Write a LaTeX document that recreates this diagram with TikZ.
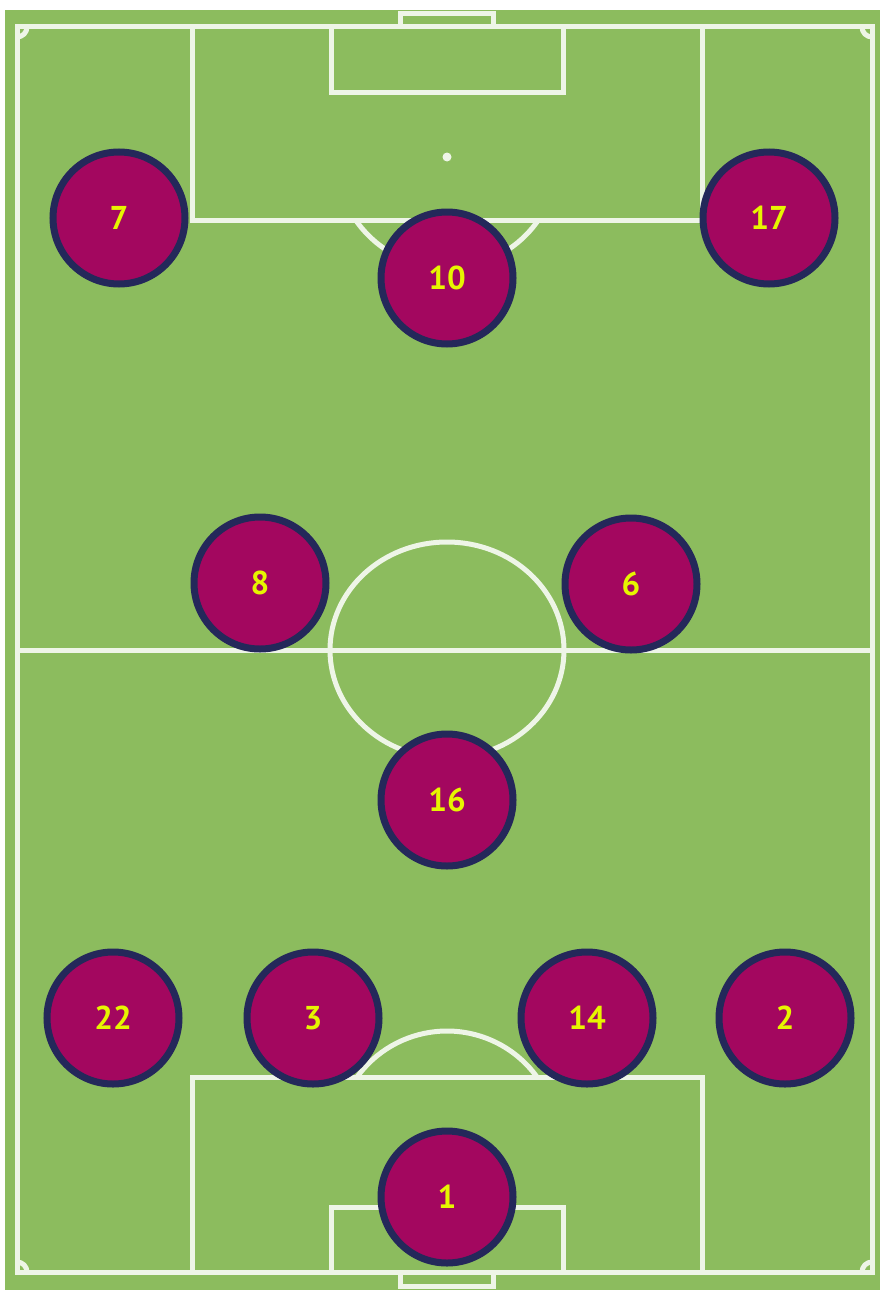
\documentclass[tikz,border=0pt]{standalone}
\usepackage{fontspec}
\setsansfont{PT Sans}[BoldFont={PT Sans Bold}]
\definecolor{grass}{RGB}{140,188,94}
\definecolor{shirt}{RGB}{163,7,95}
\definecolor{rim}{RGB}{36,40,90}
\definecolor{numyellow}{RGB}{230,245,0}
\colorlet{chalk}{white!85!grass}
\usetikzlibrary{positioning}

\begin{document}
\begin{tikzpicture}[x=1pt, y=-1pt,
    line/.style={draw=chalk, line width=5pt},
    player/.style={circle, fill=shirt, draw=rim, line width=7pt, minimum size=132pt,
      inner sep=0pt, text=numyellow, font=\sffamily\bfseries\fontsize{33}{33}\selectfont},
  ]
    % page and turf
    \useasboundingbox[fill=white] (0,0) rectangle (880,1290);
    \fill[grass] (5,10) rectangle (880,1290);
    % pitch markings
    \draw[line] (17,27) rectangle (872,1272);
    \draw[line] (17,650) -- (872,650);
    \draw[line] (447,650) ellipse[x radius=117, y radius=108];
    \fill[chalk] (447,157) circle[radius=4.5];
    % top end
    \draw[line] (400,27) -- (400,14) -- (493,14) -- (493,27);
    \draw[line] (331,27) rectangle (563,92);
    \draw[line] (192,27) rectangle (702,220);
    \draw[line] (447,157) ++(34.6:111) arc[start angle=34.6, end angle=145.4, radius=111];
    % bottom end
    \draw[line] (400,1272) -- (400,1286) -- (493,1286) -- (493,1272);
    \draw[line] (331,1272) rectangle (563,1207);
    \draw[line] (192,1272) rectangle (702,1077);
    \draw[line] (447,1142) ++(-35.8:111) arc[start angle=-35.8, end angle=-144.2, radius=111];
    % corners
    \draw[line] (27,27) arc[start angle=0, end angle=90, radius=10];
    \draw[line] (862,27) arc[start angle=180, end angle=90, radius=10];
    \draw[line] (27,1272) arc[start angle=0, end angle=-90, radius=10];
    \draw[line] (862,1272) arc[start angle=180, end angle=270, radius=10];
    % players
    \node[player] (p7) at (119,218) {7};
    \node[player] (p17) at (769,218) {17};
    \node[player] (p10) at (447,278) {10};
    \node[player] (p8) at (260,583) {8};
    \node[player] (p6) at (631,584) {6};
    \node[player] (p16) at (447,800) {16};
    \node[player] (p22) at (113,1018) {22};
    \node[player] (p3) at (313,1018) {3};
    \node[player] (p14) at (587,1018) {14};
    \node[player] (p2) at (785,1018) {2};
    \node[player] (p1) at (447,1197) {1};
  \end{tikzpicture}
\end{document}
